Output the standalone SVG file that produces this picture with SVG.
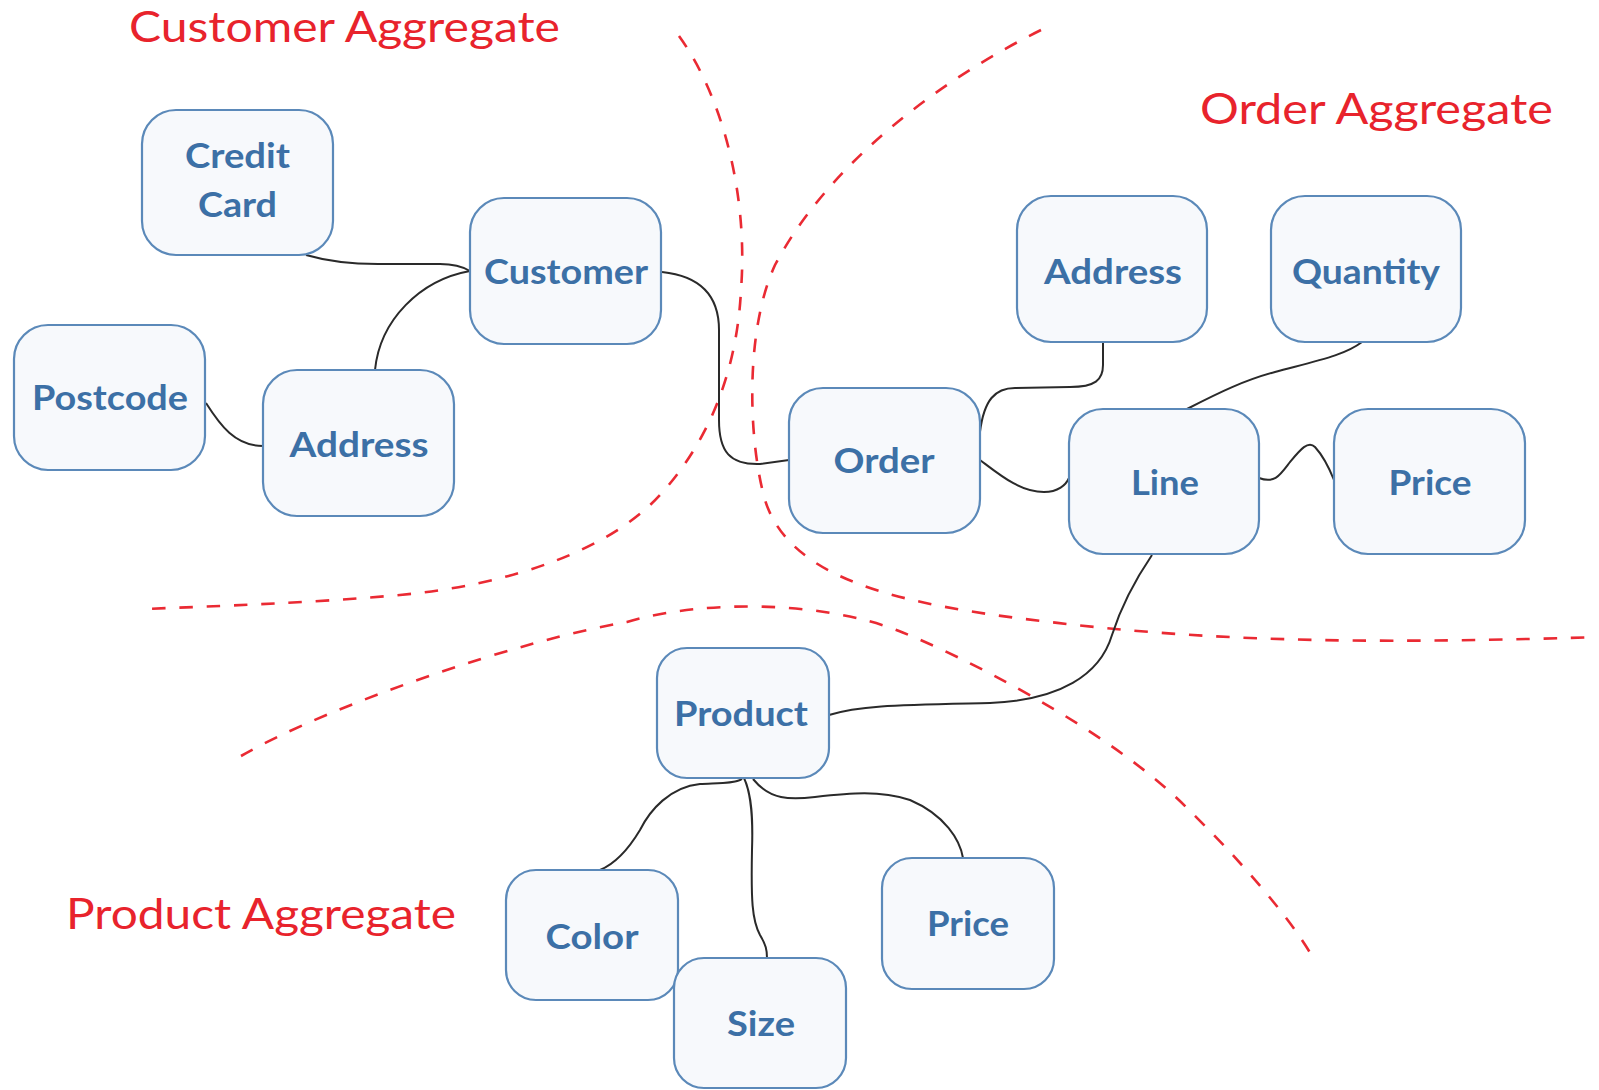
<svg xmlns="http://www.w3.org/2000/svg" width="1599" height="1090" viewBox="0 0 1599 1090">
<style>
.bg{fill:#ffffff}
.node rect{fill:#f7f9fc;stroke:#5b89b9;stroke-width:2.2}
.node text{font-family:Lato,"Open Sans","Liberation Sans",sans-serif;font-weight:700;font-size:35px;fill:#3c70a6;text-anchor:middle}
.conn path{fill:none;stroke:#2a2a2a;stroke-width:2}
.bound path{fill:none;stroke:#ea2a33;stroke-width:2.6;stroke-dasharray:13.5 13.8}
.title{font-family:Lato,"Open Sans","Liberation Sans",sans-serif;font-weight:400;font-size:42px;fill:#e8232c}
</style>
<rect class="bg" x="0" y="0" width="1599" height="1090"/>

<g id="boundaries" class="bound">
<path d="M679,36 C725,100 748,200 741,290 C737,370 710,440 660,495 C610,550 510,585 400,595 C310,603 220,606 144,609"/>
<path d="M1041,30 C930,85 825,170 775,265 C745,330 748,440 765,500 C790,580 900,605 1050,622 C1200,640 1350,645 1598,637"/>
<path d="M241,756 C330,705 520,640 627,622 C700,600 820,600 899,631 C960,655 1110,730 1187,808 C1230,850 1285,910 1312,956"/>
</g>

<g id="titles">
<text class="title" x="129" y="42" textLength="431" lengthAdjust="spacingAndGlyphs">Customer Aggregate</text>
<text class="title" x="1200" y="124" textLength="353" lengthAdjust="spacingAndGlyphs">Order Aggregate</text>
<text class="title" x="66" y="929" textLength="390" lengthAdjust="spacingAndGlyphs">Product Aggregate</text>
</g>

<g id="connectors" class="conn">
<path d="M306,255 C330,262 350,264 378,264 L440,264 C455,264 465,268 470,271"/>
<path d="M375,370 C380,320 420,280 470,271"/>
<path d="M206,403 C220,425 235,446 263,446"/>
<path d="M662,272 C700,276 719,295 719,330 L719,420 C719,452 730,465 760,464 L789,460"/>
<path d="M980,432 C984,400 995,388 1015,388 L1070,387 C1095,387 1103,380 1103,365 L1103,342"/>
<path d="M980,460 C1000,475 1020,492 1044,492 C1058,492 1066,485 1069,478"/>
<path d="M1187,409 C1220,392 1245,380 1275,372 C1320,360 1345,355 1362,342"/>
<path d="M1259,478 C1275,484 1280,475 1290,462 C1300,450 1308,440 1315,447 C1325,458 1330,470 1334,480"/>
<path d="M1152,555 C1135,580 1120,610 1112,635 C1100,675 1060,700 990,703 C900,705 860,705 829,715"/>
<path d="M742,779 C735,784 715,783 700,784 C670,787 650,810 640,830 C625,855 612,865 600,870"/>
<path d="M744,778 C752,795 753,820 752,850 C751,900 752,920 760,935 C766,945 767,950 767,958"/>
<path d="M753,779 C770,800 790,800 815,797 C850,793 880,790 910,800 C945,815 960,840 963,858"/>
</g>

<g id="credit-card" class="node"><rect x="142" y="110" width="191" height="145" rx="34"/><text x="237.5" y="168" textLength="105" lengthAdjust="spacingAndGlyphs">Credit</text><text x="237.5" y="217" textLength="79" lengthAdjust="spacingAndGlyphs">Card</text></g>
<g id="customer" class="node"><rect x="470" y="198" width="191" height="146" rx="34"/><text x="566" y="284" textLength="164" lengthAdjust="spacingAndGlyphs">Customer</text></g>
<g id="postcode" class="node"><rect x="14" y="325" width="191" height="145" rx="34"/><text x="110" y="410" textLength="156" lengthAdjust="spacingAndGlyphs">Postcode</text></g>
<g id="customer-address" class="node"><rect x="263" y="370" width="191" height="146" rx="34"/><text x="359" y="457" textLength="139" lengthAdjust="spacingAndGlyphs">Address</text></g>
<g id="order-address" class="node"><rect x="1017" y="196" width="190" height="146" rx="34"/><text x="1113" y="284" textLength="138" lengthAdjust="spacingAndGlyphs">Address</text></g>
<g id="quantity" class="node"><rect x="1271" y="196" width="190" height="146" rx="34"/><text x="1366" y="284" textLength="148" lengthAdjust="spacingAndGlyphs">Quantity</text></g>
<g id="order" class="node"><rect x="789" y="388" width="191" height="145" rx="34"/><text x="884" y="473" textLength="101" lengthAdjust="spacingAndGlyphs">Order</text></g>
<g id="line" class="node"><rect x="1069" y="409" width="190" height="145" rx="34"/><text x="1165" y="495" textLength="68" lengthAdjust="spacingAndGlyphs">Line</text></g>
<g id="line-price" class="node"><rect x="1334" y="409" width="191" height="145" rx="34"/><text x="1430" y="495" textLength="83" lengthAdjust="spacingAndGlyphs">Price</text></g>
<g id="product" class="node"><rect x="657" y="648" width="172" height="130" rx="30"/><text x="741" y="726" textLength="134" lengthAdjust="spacingAndGlyphs">Product</text></g>
<g id="color" class="node"><rect x="506" y="870" width="172" height="130" rx="30"/><text x="592" y="949" textLength="93" lengthAdjust="spacingAndGlyphs">Color</text></g>
<g id="size" class="node"><rect x="674" y="958" width="172" height="130" rx="30"/><text x="761" y="1036" textLength="68" lengthAdjust="spacingAndGlyphs">Size</text></g>
<g id="product-price" class="node"><rect x="882" y="858" width="172" height="131" rx="30"/><text x="968" y="936" textLength="82" lengthAdjust="spacingAndGlyphs">Price</text></g>
</svg>
